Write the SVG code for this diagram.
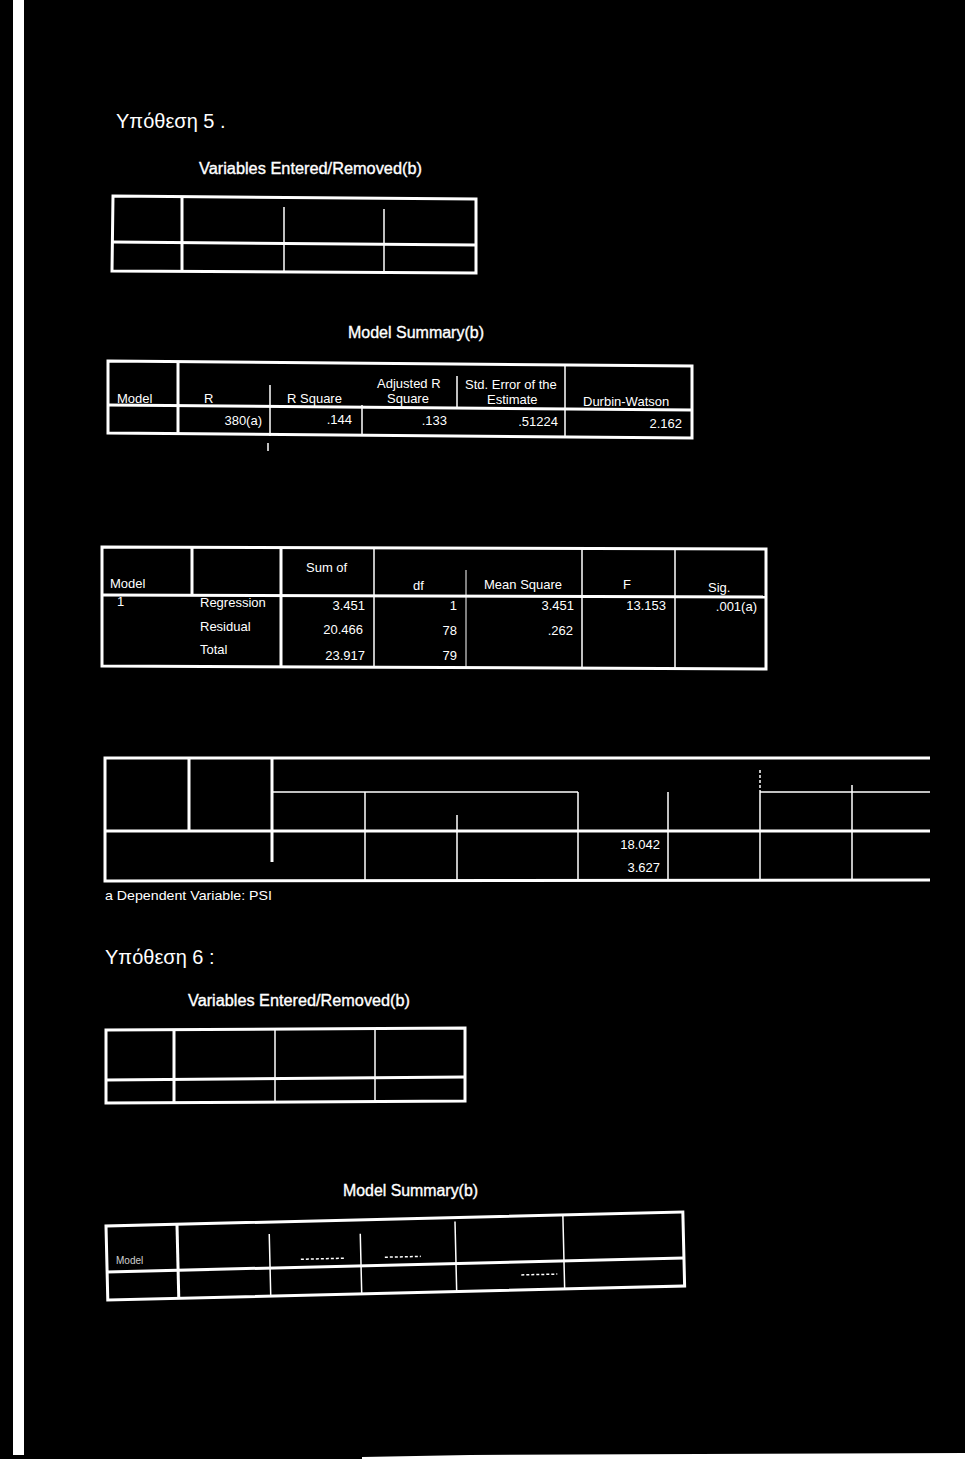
<svg xmlns="http://www.w3.org/2000/svg" width="965" height="1459" viewBox="0 0 965 1459">
<style>
text{fill:#fff;font-family:"Liberation Sans","DejaVu Sans",sans-serif}
.h{font-size:20px}
.t{font-size:16px;stroke:#fff;stroke-width:0.35}
.c{font-size:13px}
.r{text-anchor:end}
.k{fill:none;stroke:#fff;stroke-width:3}
.n{fill:none;stroke:#fff;stroke-width:1.5}
.f{fill:none;stroke:#fff;stroke-width:1}
.d{fill:none;stroke:#fff;stroke-width:1.5;stroke-dasharray:3 2}
</style>
<rect width="965" height="1459" fill="#000"/>
<rect x="13" y="0" width="11" height="1455" fill="#fff"/>
<polygon points="362,1457 470,1455 965,1453 965,1459 362,1459" fill="#fff"/>

<g id="hyp5">
<text class="h" x="116" y="128">Υπόθεση 5 .</text>
</g>

<g id="table1">
<text class="t" x="199" y="174" textLength="223" lengthAdjust="spacingAndGlyphs">Variables Entered/Removed(b)</text>
<path class="k" d="M113,196 L476,199 L476,273 L112,271 Z"/>
<path class="k" d="M113,242 L476,245"/>
<path class="k" d="M182,196 L182,271"/>
<path class="n" d="M284,207 L284,272 M384,209 L384,273"/>
</g>

<g id="table2">
<text class="t" x="348" y="338" textLength="136" lengthAdjust="spacingAndGlyphs">Model Summary(b)</text>
<path class="k" d="M108,361 L692,366 L692,438 L108,433 Z"/>
<path class="k" d="M108,405 L692,410"/>
<path class="k" d="M178,361 L178,433"/>
<path class="n" d="M270,385 L270,436 M362,405 L362,436 M457,376 L457,407 M565,366 L565,437"/>
<path class="n" d="M268,443 L268,451"/>
<text class="c" x="117" y="403">Model</text>
<text class="c" x="204" y="403">R</text>
<text class="c" x="287" y="403">R Square</text>
<text class="c" x="377" y="388">Adjusted R</text>
<text class="c" x="387" y="403">Square</text>
<text class="c" x="465" y="389">Std. Error of the</text>
<text class="c" x="487" y="404">Estimate</text>
<text class="c" x="583" y="406">Durbin-Watson</text>
<text class="c r" x="262" y="425">380(a)</text>
<text class="c r" x="352" y="424">.144</text>
<text class="c r" x="447" y="425">.133</text>
<text class="c r" x="558" y="426">.51224</text>
<text class="c r" x="682" y="428">2.162</text>
</g>

<g id="table3">
<path class="k" d="M102,547 L766,549 L766,669 L102,666 Z"/>
<path class="k" d="M102,595 L766,597"/>
<path class="k" d="M192,547 L192,595 M281,547 L281,667"/>
<path class="n" d="M374,548 L374,667 M582,548 L582,668 M675,549 L675,668"/>
<path class="f" d="M466,570 L466,667"/>
<text class="c" x="306" y="572">Sum of</text>
<text class="c" x="110" y="588">Model</text>
<text class="c" x="413" y="590">df</text>
<text class="c" x="484" y="589">Mean Square</text>
<text class="c" x="623" y="589">F</text>
<text class="c" x="708" y="592">Sig.</text>
<text class="c" x="117" y="606">1</text>
<text class="c" x="200" y="607">Regression</text>
<text class="c r" x="365" y="610">3.451</text>
<text class="c r" x="457" y="610">1</text>
<text class="c r" x="574" y="610">3.451</text>
<text class="c r" x="666" y="610">13.153</text>
<text class="c r" x="757" y="611">.001(a)</text>
<text class="c" x="200" y="631">Residual</text>
<text class="c r" x="363" y="634">20.466</text>
<text class="c r" x="457" y="635">78</text>
<text class="c r" x="573" y="635">.262</text>
<text class="c" x="200" y="654">Total</text>
<text class="c r" x="365" y="660">23.917</text>
<text class="c r" x="457" y="660">79</text>
</g>

<g id="table4">
<path class="k" d="M930,758 L105,758 L105,881 L930,880"/>
<path class="k" d="M105,831 L930,831"/>
<path class="k" d="M189,758 L189,831 M272,758 L272,862"/>
<path class="n" d="M272,792 L578,792 M760,792 L930,792"/>
<path class="n" d="M365,792 L365,881 M457,815 L457,881 M578,792 L578,881 M668,792 L668,881 M852,785 L852,881"/>
<path class="d" d="M760,770 L760,792"/>
<path class="n" d="M760,792 L760,881"/>
<text class="c r" x="660" y="849">18.042</text>
<text class="c r" x="660" y="872">3.627</text>
<text class="c" x="105" y="900" textLength="167" lengthAdjust="spacingAndGlyphs">a  Dependent Variable: PSI</text>
</g>

<g id="hyp6">
<text class="h" x="105" y="964">Υπόθεση 6 :</text>
</g>

<g id="table5">
<text class="t" x="188" y="1006" textLength="222" lengthAdjust="spacingAndGlyphs">Variables Entered/Removed(b)</text>
<path class="k" d="M106,1030 L465,1028 L465,1101 L106,1103 Z"/>
<path class="k" d="M106,1080 L465,1077"/>
<path class="k" d="M174,1030 L174,1103"/>
<path class="n" d="M275,1030 L275,1102 M375,1029 L375,1102"/>
</g>

<g id="table6">
<text class="t" x="343" y="1196" textLength="135" lengthAdjust="spacingAndGlyphs">Model Summary(b)</text>
<g transform="rotate(-1.39 106 1226)">
<rect class="k" x="106" y="1226" width="577" height="74"/>
<path class="k" d="M106,1272 L683,1272"/>
<path class="k" d="M177,1226 L177,1300"/>
<path class="n" d="M269,1238 L269,1300 M360,1240 L360,1300 M455,1230 L455,1300 M563,1226 L563,1300"/>
<path class="d" d="M300,1264 L345,1264 M384,1264 L420,1264 M520,1285 L556,1285"/>
</g>
<text x="116" y="1264" font-size="10" opacity="0.8">Model</text>
</g>
</svg>
